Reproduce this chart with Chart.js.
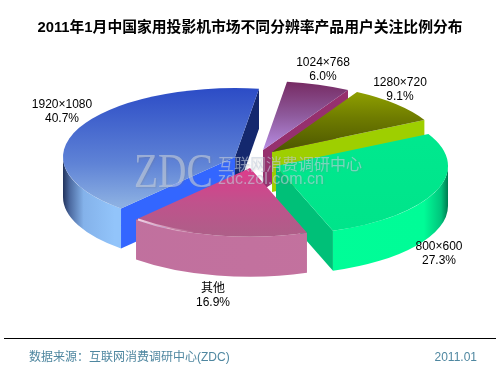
<!DOCTYPE html>
<html>
<head>
<meta charset="utf-8">
<style>
  html, body { margin: 0; padding: 0; background: #fff; }
  canvas { display: block; }
</style>
</head>
<body>
<canvas id="pie" width="500" height="375"></canvas>
<script src="https://cdn.jsdelivr.net/npm/chart.js@4"></script>
<script>
const categories = ['1920×1080', '1024×768', '1280×720', '800×600', '其他'];
const shares = [40.7, 6.0, 9.1, 27.3, 16.9];
const shareLabels = ['40.7%', '6.0%', '9.1%', '27.3%', '16.9%'];

const TITLE = '2011年1月中国家用投影机市场不同分辨率产品用户关注比例分布';
const SOURCE = '数据来源：互联网消费调研中心(ZDC)';
const DATE = '2011.01';

const LATIN_CJK = '"Liberation Sans", "Noto Sans CJK SC", sans-serif';

// fake 3D settings
const SQUASH = 0.4;
const DEPTH = 40;
const drawOrder = [1, 2, 0, 3, 4];
// how far each slice is pulled from the chart centre, [dx, dy]
const explode = [[-15, -3], [13, -10], [22, -8], [26, 6], [0, 8]];
const topStops = [
  [[0, '#2c4cc6'], [0.55, '#5f83d6'], [0.85, '#8cb0e2']],
  [[0, '#762a62'], [0.25, '#8e5a9c'], [0.5, '#b88ee4']],
  [[0, '#9aac00'], [0.25, '#6f7c00'], [0.5, '#4c5600']],
  [[0, '#00ea90'], [1, '#00e48a']],
  [[0.45, '#e6358c'], [0.75, '#c0528c'], [1, '#ad5f88']]
];
const rimStops = [
  [[0, '#22335c'], [0.02, '#4c6aa0'], [0.06, '#84b2ea'], [0.15, '#92c4fa'], [1, '#92c4fa']],
  [[0, '#96306e'], [1, '#96306e']],
  [[0, '#9ecf00'], [1, '#9ecf00']],
  [[0, '#00ff99'], [0.93, '#00fc97'], [0.98, '#00c47c'], [1, '#007a50']],
  [[0, '#c0709e'], [1, '#c4729e']]
];
const startFaces = ['#3366ff', null, null, null, null];
const endFaces = ['#14286e', '#96306e', '#9ecf00', '#00c078', null];
// label anchors: middle of the two text lines
const labelSpots = [[62, 112], [323, 70], [400, 90], [439, 254], [213, 296]];

function makeStops(grad, stops) {
  stops.forEach(s => grad.addColorStop(s[0], s[1]));
  return grad;
}

function topFill(context) {
  const chart = context.chart;
  const area = chart.chartArea;
  if (!area) return '#888';
  const r = context.dataset.radius;
  const midY = (area.top + area.bottom) / 2;
  return makeStops(chart.ctx.createLinearGradient(0, midY - r, 0, midY + r), topStops[context.dataIndex]);
}

function drawFace(ctx, cx, cy, r, angle, color) {
  const ex = cx + Math.cos(angle) * r;
  const ey = cy + Math.sin(angle) * r * SQUASH;
  ctx.fillStyle = color;
  ctx.beginPath();
  ctx.moveTo(cx, cy);
  ctx.lineTo(ex, ey);
  ctx.lineTo(ex, ey + DEPTH);
  ctx.lineTo(cx, cy + DEPTH);
  ctx.closePath();
  ctx.fill();
}

function drawRim(ctx, cx, cy, r, a0, a1, i) {
  // only the front half of the ellipse can be seen
  [0, Math.PI * 2].forEach(base => {
    const from = Math.max(a0, base);
    const to = Math.min(a1, base + Math.PI);
    if (to <= from) return;
    ctx.fillStyle = makeStops(ctx.createLinearGradient(cx - r, 0, cx + r, 0), rimStops[i]);
    ctx.beginPath();
    ctx.ellipse(cx, cy, r, r * SQUASH, 0, from, to);
    ctx.ellipse(cx, cy + DEPTH, r, r * SQUASH, 0, to, from, true);
    ctx.closePath();
    ctx.fill();
  });
}

// small shine on the front edge of the last slice
function drawShine(ctx, cx, cy, r, a0, a1) {
  const grad = ctx.createLinearGradient(cx - r, 0, cx + r, 0);
  grad.addColorStop(0, 'rgba(255,235,245,0)');
  grad.addColorStop(0.16, 'rgba(255,235,245,0.9)');
  grad.addColorStop(0.34, 'rgba(255,235,245,0)');
  ctx.strokeStyle = grad;
  ctx.lineWidth = 2;
  ctx.beginPath();
  ctx.ellipse(cx, cy + 1, r - 3, (r - 3) * SQUASH, 0, a0, a1);
  ctx.stroke();
}

const pie3d = {
  id: 'pie3d',
  beforeDatasetDraw(chart, args) {
    const ctx = chart.ctx;
    const arcs = args.meta.data;
    drawOrder.forEach(i => {
      const arc = arcs[i];
      const r = arc.outerRadius;
      const cx = arc.x + explode[i][0];
      const cy = arc.y + explode[i][1];
      if (endFaces[i]) drawFace(ctx, cx, cy, r, arc.endAngle, endFaces[i]);
      if (startFaces[i]) drawFace(ctx, cx, cy, r, arc.startAngle, startFaces[i]);
      drawRim(ctx, cx, cy, r, arc.startAngle, arc.endAngle, i);
      ctx.save();
      ctx.translate(cx, cy);
      ctx.scale(1, SQUASH);
      ctx.translate(-arc.x, -arc.y);
      arc.draw(ctx);
      ctx.restore();
      if (i === 4) drawShine(ctx, cx, cy, r, arc.startAngle, arc.endAngle);
    });
    return false;
  },
  afterDraw(chart) {
    const ctx = chart.ctx;
    ctx.save();

    // site watermark
    ctx.save();
    ctx.fillStyle = 'rgba(196,206,222,0.6)';
    ctx.shadowColor = 'rgba(110,110,110,0.35)';
    ctx.shadowBlur = 2;
    ctx.shadowOffsetX = 1;
    ctx.shadowOffsetY = 1;
    ctx.textBaseline = 'alphabetic';
    ctx.textAlign = 'left';
    ctx.font = '16px "Noto Sans CJK SC", sans-serif';
    ctx.fillText('互联网消费调研中心', 218, 170);
    ctx.font = '16px "Liberation Sans", sans-serif';
    ctx.fillText('zdc.zol.com.cn', 218, 184);
    ctx.translate(134, 187);
    ctx.scale(0.82, 1);
    ctx.font = '48px "Liberation Serif", serif';
    ctx.fillText('ZDC', 0, 0);
    ctx.restore();

    // value labels
    ctx.fillStyle = '#000';
    ctx.textAlign = 'center';
    ctx.textBaseline = 'middle';
    ctx.font = '12px ' + LATIN_CJK;
    categories.forEach((name, i) => {
      ctx.fillText(name, labelSpots[i][0], labelSpots[i][1] - 7);
      ctx.fillText(shareLabels[i], labelSpots[i][0], labelSpots[i][1] + 7);
    });

    // footer
    ctx.strokeStyle = '#000';
    ctx.lineWidth = 1;
    ctx.beginPath();
    ctx.moveTo(4, 338.5);
    ctx.lineTo(496, 338.5);
    ctx.stroke();
    ctx.fillStyle = '#4f87a0';
    ctx.font = '12px ' + LATIN_CJK;
    ctx.textAlign = 'left';
    ctx.fillText(SOURCE, 29, 358);
    ctx.textAlign = 'right';
    ctx.fillText(DATE, 477, 358);
    ctx.restore();
  }
};

new Chart(document.getElementById('pie'), {
  type: 'pie',
  data: {
    labels: categories,
    datasets: [{
      data: shares,
      radius: 172,
      backgroundColor: topFill,
      borderWidth: 0
    }]
  },
  options: {
    responsive: false,
    animation: false,
    rotation: 221.5,
    layout: { padding: { bottom: 97 } },
    plugins: {
      legend: { display: false },
      tooltip: { enabled: false },
      title: {
        display: true,
        text: TITLE,
        color: '#000',
        font: { size: 14.8, weight: 'bold', family: LATIN_CJK },
        padding: { top: 19, bottom: 5 }
      }
    }
  },
  plugins: [pie3d]
});
</script>
</body>
</html>
